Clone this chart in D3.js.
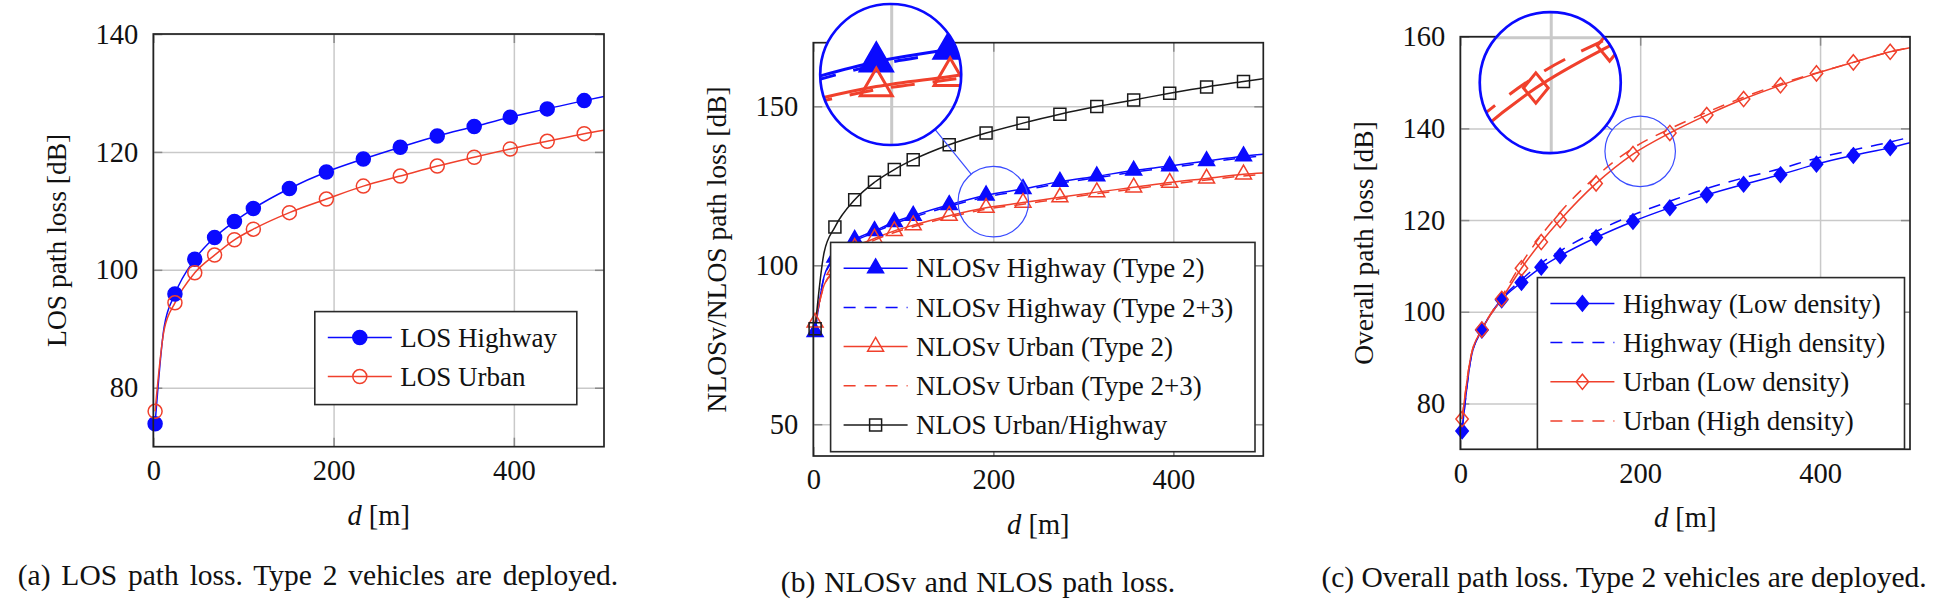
<!DOCTYPE html>
<html>
<head>
<meta charset="utf-8">
<script src="https://cdn.jsdelivr.net/npm/d3@7"></script>
<style>
  body { margin: 0; background: #fff; }
  svg text { font-family: "Liberation Serif", "Times New Roman", serif; fill: #111; }
</style>
</head>
<body>
<svg id="fig" width="1953" height="613"></svg>
<script>
const dist = [2, 12, 24, 46, 68, 90, 111, 151, 192, 233, 274, 315, 356, 396, 437, 478, 500];
const markedDist = [2, 24, 46, 68, 90, 111, 151, 192, 233, 274, 315, 356, 396, 437, 478];
const xTicks = [0, 200, 400];

// (a) LOS path loss
const losHighway = [73.9, 90.3, 95.9, 101.8, 105.5, 108.2, 110.4, 113.8, 116.6, 118.8, 120.8, 122.7, 124.3, 125.9, 127.3, 128.7, 129.4];
const losUrban   = [76.0, 89.8, 94.4, 99.5, 102.5, 105.1, 106.9, 109.7, 112.0, 114.2, 115.9, 117.6, 119.1, 120.5, 121.8, 123.1, 123.7];
const yTicksA = [80, 100, 120, 140];

// (b) NLOSv / NLOS path loss
const nlosvHighway2  = [79.0, 96.5, 102.5, 108.0, 110.8, 113.6, 115.6, 119.0, 122.0, 124.0, 126.3, 128.0, 129.8, 131.2, 132.8, 134.3, 134.9];
const nlosvHighway23 = [79.0, 96.2, 102.1, 107.5, 110.3, 113.1, 115.1, 118.5, 121.5, 123.5, 125.8, 127.5, 129.3, 130.7, 132.3, 133.8, 134.4];
const nlosvUrban2    = [82.0, 93.8, 98.5, 105.5, 108.4, 110.8, 112.6, 115.6, 118.1, 119.7, 121.4, 123.0, 124.5, 126.0, 127.3, 128.6, 129.0];
const nlosvUrban23   = [82.0, 93.5, 98.1, 105.0, 107.9, 110.3, 112.1, 115.1, 117.6, 119.2, 120.9, 122.5, 124.0, 125.5, 126.8, 128.1, 128.5];
const nlos           = [80.0, 104.0, 112.0, 120.6, 126.1, 130.1, 133.2, 137.9, 141.6, 144.7, 147.5, 149.9, 152.0, 154.1, 156.1, 157.8, 158.7];
const yTicksB = [50, 100, 150];

// (c) overall path loss
const highwayLow  = [74.0, 90.0, 96.0, 102.6, 106.4, 109.7, 112.2, 116.2, 119.7, 122.7, 125.5, 127.8, 129.9, 132.2, 134.1, 135.8, 136.9];
const highwayHigh = [74.0, 90.0, 96.0, 102.8, 107.0, 110.6, 113.3, 117.5, 121.1, 124.1, 126.9, 129.2, 131.2, 133.5, 135.3, 137.0, 138.1];
const urbanLow    = [76.6, 90.5, 96.1, 102.8, 109.5, 115.2, 120.0, 128.0, 134.4, 139.0, 142.9, 146.4, 149.4, 152.0, 154.4, 156.7, 157.6];
const urbanHigh   = [76.6, 90.5, 96.1, 103.3, 110.5, 116.7, 121.7, 129.5, 135.7, 139.9, 143.5, 146.8, 149.7, 152.1, 154.4, 156.7, 157.6];
const yTicksC = [80, 100, 120, 140, 160];

const BLUE = '#0a0aff', RED = '#f0402c', BLACK = '#1a1a1a';
const DASH = '12,9';

const panels = [
  {
    id: 'a', left: 153.3, top: 34, w: 450.7, h: 412.7, yDomain: [70, 140], yTicks: yTicksA,
    ylabel: 'LOS path loss [dB]',
    caption: '(a) LOS path loss. Type 2 vehicles are deployed.', capX: 318, capY: 575, capSpace: 3.5,
    series: [
      { name: 'LOS Highway', values: losHighway, color: BLUE, mark: 'circle', filled: true },
      { name: 'LOS Urban', values: losUrban, color: RED, mark: 'circle', filled: false }
    ],
    legend: { x: 161.5, y: 277.6, w: 262, h: 93 }
  },
  {
    id: 'b', left: 813.3, top: 42.7, w: 450, h: 413.3, yDomain: [40, 170], yTicks: yTicksB,
    ylabel: 'NLOSv/NLOS path loss [dB]',
    caption: '(b) NLOSv and NLOS path loss.', capX: 978, capY: 582, capSpace: 1.5,
    series: [
      { name: 'NLOSv Highway (Type 2)', values: nlosvHighway2, color: BLUE, mark: 'triangle', filled: true },
      { name: 'NLOSv Highway (Type 2+3)', values: nlosvHighway23, color: BLUE, dash: DASH },
      { name: 'NLOSv Urban (Type 2)', values: nlosvUrban2, color: RED, mark: 'triangle', filled: false },
      { name: 'NLOSv Urban (Type 2+3)', values: nlosvUrban23, color: RED, dash: DASH },
      { name: 'NLOS Urban/Highway', values: nlos, color: BLACK, mark: 'square', filled: false }
    ],
    legend: { x: 17.3, y: 199.7, w: 424.4, h: 209.3 },
    spy: { at: [200, 120], to: [86, 160], r: 70.5, mag: 2, gridThrough: true }
  },
  {
    id: 'c', left: 1460.3, top: 36.7, w: 449.7, h: 412.6, yDomain: [70, 160], yTicks: yTicksC,
    ylabel: 'Overall path loss [dB]',
    caption: '(c) Overall path loss. Type 2 vehicles are deployed.', capX: 1624, capY: 577, capSpace: 0,
    series: [
      { name: 'Highway (Low density)', values: highwayLow, color: BLUE, mark: 'diamond', filled: true },
      { name: 'Highway (High density)', values: highwayHigh, color: BLUE, dash: DASH },
      { name: 'Urban (Low density)', values: urbanLow, color: RED, mark: 'diamond', filled: false },
      { name: 'Urban (High density)', values: urbanHigh, color: RED, dash: DASH }
    ],
    legend: { x: 77.1, y: 240.9, w: 367.1, h: 171.4 },
    spy: { at: [200, 135], to: [100, 150], r: 70.5, mag: 2 }
  }
];

const svg = d3.select('#fig');
const defs = svg.append('defs');

function markPath(type) {
  if (type === 'circle') return d3.symbol(d3.symbolCircle, Math.PI * 7 * 7)();
  if (type === 'triangle') return d3.symbol(d3.symbolTriangle, 110)();
  if (type === 'square') return d3.symbol(d3.symbolSquare, 12 * 12)();
  const p = d3.path(); // diamond, a bit taller than wide
  p.moveTo(0, -7.6); p.lineTo(6.2, 0); p.lineTo(0, 7.6); p.lineTo(-6.2, 0); p.closePath();
  return p.toString();
}

function plainAxis(g, axis, tx, ty) {
  const a = g.append('g').attr('transform', `translate(${tx},${ty})`).call(axis);
  a.select('.domain').remove();
  a.attr('font-family', null).attr('font-size', null);
  return a;
}

function drawGrid(g, x, y, p) {
  plainAxis(g, d3.axisBottom(x).tickValues(xTicks).tickSize(-p.h).tickFormat(''), 0, p.top + p.h)
    .selectAll('line').attr('stroke', '#c9c9c9').attr('stroke-width', 1.5);
  plainAxis(g, d3.axisLeft(y).tickValues(p.yTicks).tickSize(-p.w).tickFormat(''), p.left, 0)
    .selectAll('line').attr('stroke', '#c9c9c9').attr('stroke-width', 1.5);
}

function drawSeries(g, x, y, p, clipId) {
  const line = d3.line().x((d, i) => x(dist[i])).y(d => y(d)).curve(d3.curveMonotoneX);
  const lg = g.append('g').attr('clip-path', clipId ? `url(#${clipId})` : null);
  p.series.forEach(s => {
    lg.append('path').attr('d', line(s.values)).attr('fill', 'none')
      .attr('stroke', s.color).attr('stroke-width', 1.5)
      .attr('stroke-dasharray', s.dash || null);
  });
  p.series.filter(s => s.mark).forEach(s => {
    const pts = dist.map((d, i) => [d, s.values[i]]).filter(q => markedDist.includes(q[0]));
    g.append('g').selectAll('path').data(pts).join('path')
      .attr('transform', q => `translate(${x(q[0])},${y(q[1])})`)
      .attr('d', markPath(s.mark))
      .attr('fill', s.filled ? s.color : 'none')
      .attr('stroke', s.color).attr('stroke-width', 1.5);
  });
}

function drawPanel(p) {
  const x = d3.scaleLinear().domain([0, 500]).range([p.left, p.left + p.w]);
  const y = d3.scaleLinear().domain(p.yDomain).range([p.top + p.h, p.top]);
  const g = svg.append('g');
  const clipId = 'plot-' + p.id;
  defs.append('clipPath').attr('id', clipId).append('rect')
    .attr('x', p.left).attr('y', p.top).attr('width', p.w).attr('height', p.h);

  drawGrid(g, x, y, p);

  // short inner tick marks on all four sides
  const tk = [
    [d3.axisBottom(x).tickValues(xTicks), 0, p.top + p.h],
    [d3.axisTop(x).tickValues(xTicks), 0, p.top],
    [d3.axisLeft(y).tickValues(p.yTicks), p.left, 0],
    [d3.axisRight(y).tickValues(p.yTicks), p.left + p.w, 0]
  ];
  tk.forEach(t => plainAxis(g, t[0].tickSize(-9).tickFormat(''), t[1], t[2])
    .selectAll('line').attr('stroke', '#8a8a8a').attr('stroke-width', 1.5));

  drawSeries(g, x, y, p, clipId);

  g.append('rect').attr('x', p.left).attr('y', p.top).attr('width', p.w).attr('height', p.h)
    .attr('fill', 'none').attr('stroke', '#222').attr('stroke-width', 1.7);

  // tick labels
  plainAxis(g, d3.axisBottom(x).tickValues(xTicks).tickSize(0).tickPadding(13), 0, p.top + p.h)
    .selectAll('text').attr('font-size', 28.5).attr('fill', '#111');
  plainAxis(g, d3.axisLeft(y).tickValues(p.yTicks).tickSize(0).tickPadding(15), p.left, 0)
    .selectAll('text').attr('font-size', 28.5).attr('fill', '#111');

  // axis labels
  g.append('text').attr('transform', `translate(${p.left - 97},${p.top + p.h / 2}) rotate(-90)`)
    .attr('text-anchor', 'middle').attr('dy', '0.35em').attr('font-size', 27.5).text(p.ylabel);
  const xl = g.append('text').attr('x', p.left + p.w / 2).attr('y', p.top + p.h + 68)
    .attr('text-anchor', 'middle').attr('dy', '0.35em').attr('font-size', 28.5);
  xl.append('tspan').attr('font-style', 'italic').text('d');
  xl.append('tspan').text('\u00a0[m]');

  // legend
  const L = p.legend;
  const lg = g.append('g').attr('transform', `translate(${p.left + L.x},${p.top + L.y})`);
  lg.append('rect').attr('width', L.w).attr('height', L.h)
    .attr('fill', '#fff').attr('stroke', '#2a2a2a').attr('stroke-width', 1.6);
  p.series.forEach((s, i) => {
    const row = lg.append('g').attr('transform', `translate(0,${25.8 + i * 39.2})`);
    row.append('line').attr('x1', 13).attr('x2', 77).attr('stroke', s.color)
      .attr('stroke-width', 1.5).attr('stroke-dasharray', s.dash || null);
    if (s.mark) {
      row.append('path').attr('transform', 'translate(45,0)').attr('d', markPath(s.mark))
        .attr('fill', s.filled ? s.color : 'none').attr('stroke', s.color).attr('stroke-width', 1.5);
    }
    row.append('text').attr('x', 85.5).attr('dy', '0.34em').attr('font-size', 27).text(s.name);
  });

  // magnifying glass (spy)
  if (p.spy) {
    const s = p.spy;
    const sx = x(s.at[0]), sy = y(s.at[1]);
    const bx = x(s.to[0]), by = y(s.to[1]);
    const rs = s.r / s.mag;
    const dx = sx - bx, dy = sy - by, len = Math.hypot(dx, dy);
    g.append('line')
      .attr('x1', bx + dx / len * s.r).attr('y1', by + dy / len * s.r)
      .attr('x2', sx - dx / len * rs).attr('y2', sy - dy / len * rs)
      .attr('stroke', '#3a4cff').attr('stroke-width', 1.2);
    g.append('circle').attr('cx', sx).attr('cy', sy).attr('r', rs)
      .attr('fill', 'none').attr('stroke', '#3a4cff').attr('stroke-width', 1.2);

    g.append('circle').attr('cx', bx).attr('cy', by).attr('r', s.r).attr('fill', '#fff');
    if (s.gridThrough) {
      const gid = 'spyout-' + p.id;
      defs.append('clipPath').attr('id', gid).append('circle').attr('cx', bx).attr('cy', by).attr('r', s.r);
      drawGrid(g.append('g').attr('clip-path', `url(#${gid})`), x, y, p);
    }
    const cid = 'spy-' + p.id;
    defs.append('clipPath').attr('id', cid).append('circle').attr('cx', sx).attr('cy', sy).attr('r', rs);
    const mg = g.append('g')
      .attr('transform', `translate(${bx},${by}) scale(${s.mag}) translate(${-sx},${-sy})`)
      .append('g').attr('clip-path', `url(#${cid})`);
    drawGrid(mg, x, y, p);
    drawSeries(mg, x, y, p, null);
    g.append('circle').attr('cx', bx).attr('cy', by).attr('r', s.r)
      .attr('fill', 'none').attr('stroke', BLUE).attr('stroke-width', 2.7);
  }

  svg.append('text').attr('x', p.capX).attr('y', p.capY).attr('text-anchor', 'middle')
    .attr('dy', '0.35em').attr('font-size', 29.5).attr('word-spacing', p.capSpace)
    .text(p.caption);
}

panels.forEach(drawPanel);
</script>
</body>
</html>
